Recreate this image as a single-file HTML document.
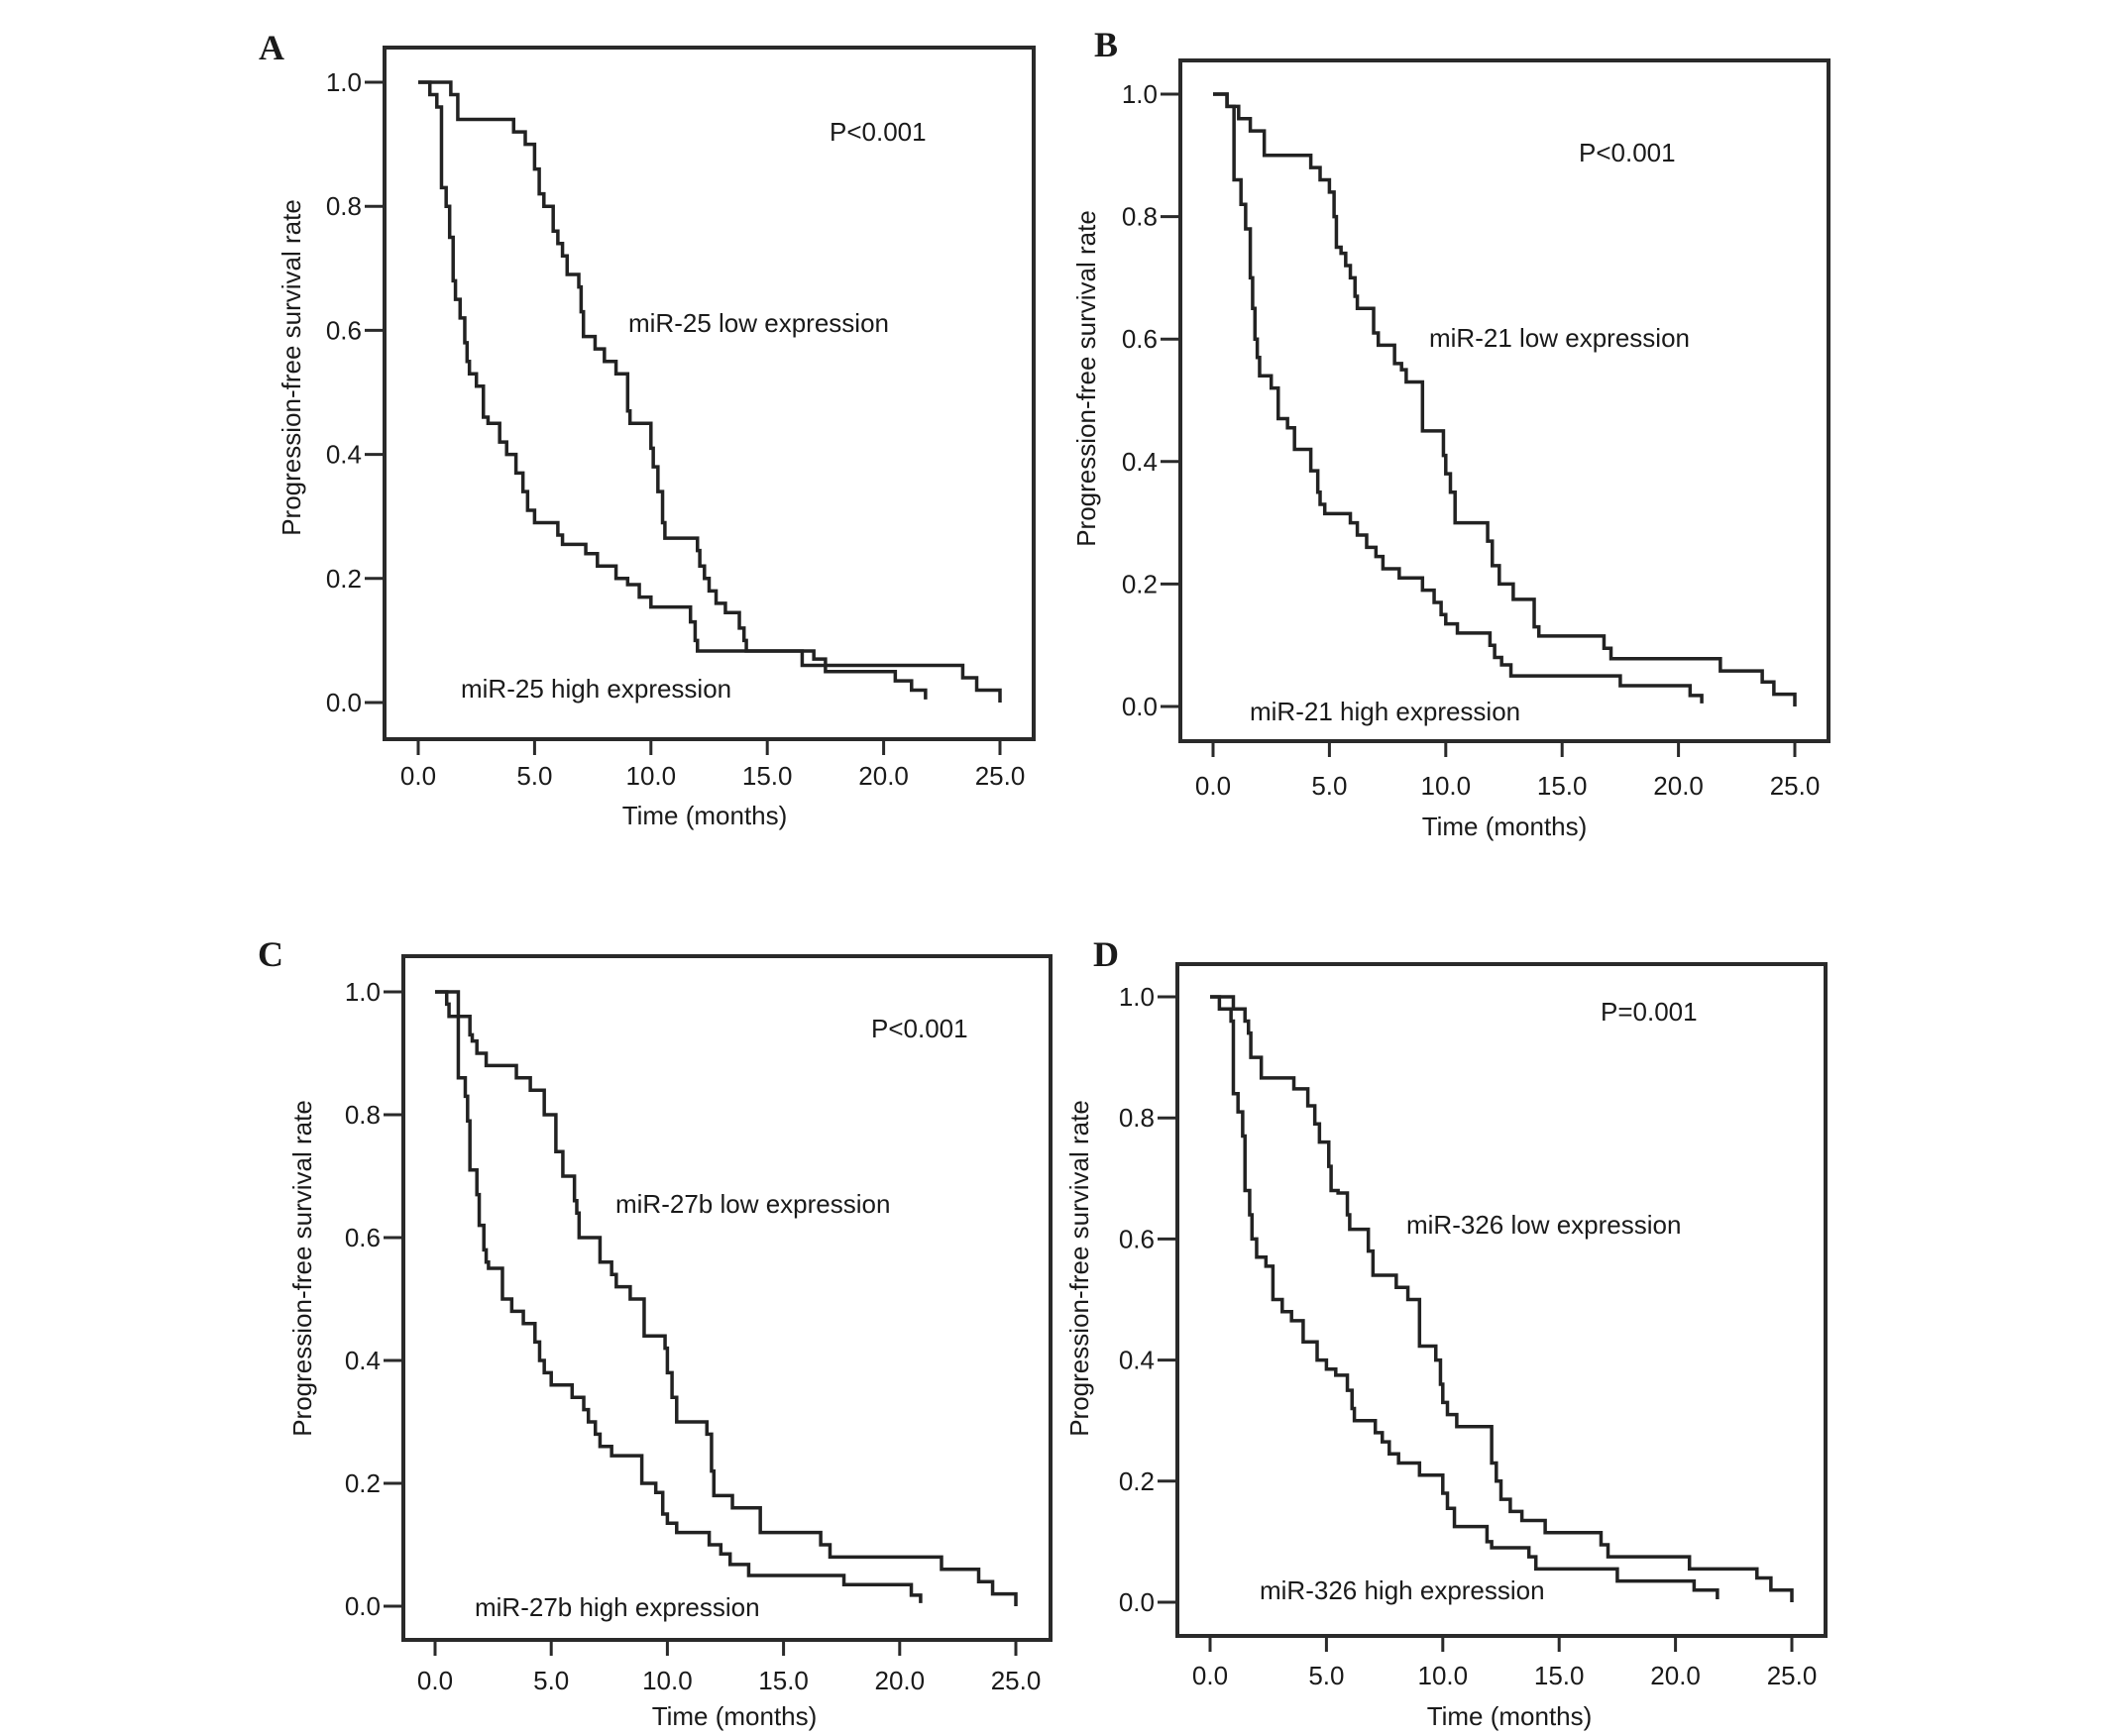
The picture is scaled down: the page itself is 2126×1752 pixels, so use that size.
<!DOCTYPE html>
<html><head><meta charset="utf-8"><style>
html,body{margin:0;padding:0;background:#fff;}
svg{display:block;}
text{font-family:"Liberation Sans",Arial,sans-serif;fill:#1a1a1a;}
.lbl{font-family:"Liberation Serif","Times New Roman",serif;font-weight:bold;}
</style></head><body>
<svg id="fig" width="2126" height="1752" viewBox="0 0 2126 1752" xmlns="http://www.w3.org/2000/svg"></svg>
<script>
// ---- data (time in months, survival after step) ----
const xTicks = [0, 5, 10, 15, 20, 25];
const xTickLabels = ["0.0", "5.0", "10.0", "15.0", "20.0", "25.0"];
const yTicks = [0, 0.2, 0.4, 0.6, 0.8, 1.0];
const yTickLabels = ["0.0", "0.2", "0.4", "0.6", "0.8", "1.0"];

const aLowT = [1.4,1.7,4.1,4.6,5.0,5.2,5.4,5.8,6.0,6.2,6.4,6.9,7.0,7.1,7.6,8.0,8.5,9.0,9.1,10.0,10.1,10.3,10.5,10.6,12.0,12.1,12.3,12.5,12.8,13.2,13.8,14.0,14.1,17.0,17.5,23.4,24.0,25.0];
const aLowS = [0.98,0.94,0.92,0.90,0.86,0.82,0.80,0.76,0.74,0.72,0.69,0.67,0.63,0.59,0.57,0.55,0.53,0.47,0.45,0.41,0.38,0.34,0.29,0.265,0.245,0.22,0.20,0.18,0.16,0.145,0.12,0.10,0.083,0.07,0.06,0.04,0.02,0.0];
const aHighT = [0.4,0.5,0.8,1.0,1.2,1.35,1.5,1.6,1.8,2.0,2.1,2.2,2.5,2.8,3.0,3.5,3.8,4.2,4.5,4.7,5.0,6.0,6.2,7.2,7.7,8.5,9.0,9.5,10.0,11.7,11.9,12.0,16.5,17.5,20.5,21.2,21.8];
const aHighS = [1.0,0.98,0.96,0.83,0.80,0.75,0.68,0.65,0.62,0.58,0.55,0.53,0.51,0.46,0.45,0.42,0.40,0.37,0.34,0.31,0.29,0.27,0.255,0.24,0.22,0.20,0.19,0.17,0.154,0.13,0.10,0.083,0.06,0.05,0.035,0.02,0.005];

const bLowT = [0.6,1.1,1.6,2.2,4.2,4.6,5.0,5.2,5.3,5.5,5.7,5.9,6.1,6.2,6.9,7.1,7.8,8.1,8.3,9.0,9.9,10.0,10.2,10.4,11.8,12.0,12.3,12.9,13.8,14.0,16.8,17.1,21.8,23.6,24.1,25.0];
const bLowS = [0.98,0.96,0.94,0.90,0.88,0.86,0.84,0.80,0.75,0.74,0.72,0.70,0.67,0.65,0.61,0.59,0.56,0.55,0.53,0.45,0.41,0.38,0.35,0.30,0.27,0.23,0.20,0.175,0.13,0.115,0.095,0.078,0.058,0.04,0.02,0.0];
const bHighT = [0.6,0.9,1.2,1.4,1.6,1.7,1.8,1.9,2.0,2.5,2.8,3.2,3.5,4.2,4.5,4.6,4.8,5.9,6.2,6.6,7.0,7.3,8.0,9.0,9.5,9.8,10.0,10.5,11.9,12.1,12.4,12.8,17.5,20.5,21.0];
const bHighS = [0.98,0.86,0.82,0.78,0.70,0.65,0.60,0.57,0.54,0.52,0.47,0.455,0.42,0.385,0.35,0.33,0.315,0.30,0.28,0.26,0.245,0.225,0.21,0.19,0.17,0.15,0.135,0.12,0.10,0.08,0.068,0.05,0.034,0.018,0.005];

const cLowT = [1.0,1.5,1.6,1.8,2.2,3.5,4.1,4.7,5.2,5.5,6.0,6.1,6.2,7.1,7.6,7.8,8.4,9.0,9.9,10.0,10.2,10.4,11.7,11.9,12.0,12.8,14.0,16.6,17.0,21.8,23.4,24.0,25.0];
const cLowS = [0.96,0.93,0.92,0.90,0.88,0.86,0.84,0.80,0.74,0.70,0.66,0.64,0.60,0.56,0.54,0.52,0.50,0.44,0.42,0.38,0.34,0.30,0.28,0.22,0.18,0.16,0.12,0.10,0.08,0.06,0.04,0.02,0.0];
const cHighT = [0.5,0.6,1.0,1.3,1.4,1.5,1.8,1.9,2.1,2.2,2.3,2.9,3.3,3.8,4.3,4.5,4.7,5.0,5.9,6.4,6.6,6.9,7.1,7.6,8.9,9.5,9.8,10.0,10.4,11.8,12.3,12.7,13.5,17.6,20.5,20.9];
const cHighS = [0.98,0.96,0.86,0.83,0.79,0.71,0.67,0.62,0.58,0.56,0.55,0.50,0.48,0.46,0.43,0.40,0.38,0.36,0.34,0.32,0.30,0.28,0.26,0.245,0.20,0.185,0.15,0.135,0.12,0.10,0.085,0.068,0.05,0.035,0.018,0.005];

const dLowT = [1.0,1.5,1.65,1.75,2.2,3.6,4.2,4.5,4.7,5.1,5.2,5.5,5.9,6.0,6.8,7.0,8.0,8.5,9.0,9.7,9.9,10.0,10.2,10.6,12.1,12.3,12.5,12.9,13.4,14.4,16.8,17.1,20.6,23.5,24.1,25.0];
const dLowS = [0.98,0.96,0.94,0.90,0.866,0.848,0.82,0.79,0.76,0.72,0.68,0.676,0.64,0.616,0.58,0.54,0.52,0.50,0.423,0.40,0.36,0.33,0.31,0.29,0.23,0.20,0.17,0.15,0.135,0.115,0.095,0.075,0.055,0.04,0.02,0.0];
const dHighT = [0.4,0.9,1.0,1.2,1.4,1.5,1.7,1.8,2.0,2.4,2.7,3.1,3.5,4.0,4.6,5.0,5.4,5.9,6.1,6.2,7.1,7.4,7.7,8.1,9.0,10.0,10.2,10.5,11.9,12.1,13.7,14.0,17.5,20.8,21.8];
const dHighS = [0.98,0.96,0.84,0.81,0.77,0.68,0.64,0.60,0.57,0.555,0.50,0.48,0.465,0.43,0.40,0.385,0.375,0.35,0.32,0.30,0.28,0.265,0.245,0.23,0.21,0.18,0.155,0.125,0.10,0.09,0.075,0.055,0.035,0.02,0.005];

// ---- layout ----
const panels = [
  {id:"a", letter:"A", L:388,R:1043,T:48,B:746, x0:422,x25:1009, y0:709,y1:83, lx:261,ly:48, p:"P<0.001",px:837,py:133, low:"miR-25 low expression",lowx:634,lowy:326, high:"miR-25 high expression",highx:465,highy:695, yt:[294,371], xt:[711,823], xl:783, series:[[aLowT,aLowS],[aHighT,aHighS]]},
  {id:"b", letter:"B", L:1191,R:1845,T:61,B:748, x0:1224,x25:1811, y0:713,y1:95, lx:1104,ly:45, p:"P<0.001",px:1593,py:154, low:"miR-21 low expression",lowx:1442,lowy:341, high:"miR-21 high expression",highx:1261,highy:718, yt:[1096,382], xt:[1518,834], xl:793, series:[[bLowT,bLowS],[bHighT,bHighS]]},
  {id:"c", letter:"C", L:407,R:1060,T:965,B:1655, x0:439,x25:1025, y0:1621,y1:1001, lx:260,ly:963, p:"P<0.001",px:879,py:1038, low:"miR-27b low expression",lowx:621,lowy:1215, high:"miR-27b high expression",highx:479,highy:1622, yt:[305,1280], xt:[741,1732], xl:1696, series:[[cLowT,cLowS],[cHighT,cHighS]]},
  {id:"d", letter:"D", L:1188,R:1842,T:973,B:1651, x0:1221,x25:1808, y0:1617,y1:1006, lx:1103,ly:963, p:"P=0.001",px:1615,py:1021, low:"miR-326 low expression",lowx:1419,lowy:1236, high:"miR-326 high expression",highx:1271,highy:1605, yt:[1089,1280], xt:[1523,1732], xl:1691, series:[[dLowT,dLowS],[dHighT,dHighS]]}
];
const NS = "http://www.w3.org/2000/svg";
const svg = document.getElementById("fig");
const FS = 26;
function mk(tag, attrs, parent){ const e=document.createElementNS(NS,tag); for(const k in attrs) e.setAttribute(k,attrs[k]); (parent||svg).appendChild(e); return e; }
function txt(s, attrs, parent){ const e=mk("text",attrs,parent); e.textContent=s; return e; }

panels.forEach(P=>{
  const g = mk("g",{});
  
  
  const xs = t => P.x0 + (P.x25-P.x0)*t/25;
  const ys = v => P.y0 + (P.y1-P.y0)*v;
  const box = mk("rect",{x:P.L,y:P.T,width:P.R-P.L,height:P.B-P.T,fill:"none",stroke:"#2a2a2a","stroke-width":4},g);
  
  
  const let_ = txt(P.letter,{x:P.lx,y:P.ly+12,"font-size":36,class:"lbl"},g);
  
  
  yTicks.forEach((v,i)=>{
    const y = ys(v);
    const tk = mk("line",{x1:P.L-20,x2:P.L,y1:y,y2:y,stroke:"#2a2a2a","stroke-width":3},g);
    
    
    const tl = txt(yTickLabels[i],{x:P.L-23,y:y+9,"font-size":FS,"text-anchor":"end"},g);
    
    
  });
  xTicks.forEach((t,i)=>{
    const x = xs(t);
    const tk = mk("line",{x1:x,x2:x,y1:P.B,y2:P.B+16,stroke:"#2a2a2a","stroke-width":3},g);
    
    
    const tl = txt(xTickLabels[i],{x:x,y:P.xl+9,"font-size":FS,"text-anchor":"middle"},g);
    
    
  });
  const xt = txt("Time (months)",{x:P.xt[0],y:P.xt[1]+9,"font-size":FS,"text-anchor":"middle"},g);
  
  
  const yt = txt("Progression-free survival rate",{x:0,y:0,"font-size":FS,"text-anchor":"middle",transform:`translate(${P.yt[0]+9},${P.yt[1]}) rotate(-90)`},g);
  
  
  const pv = txt(P.p,{x:P.px,y:P.py+9,"font-size":FS},g);
  
  
  const lo = txt(P.low,{x:P.lowx,y:P.lowy+9,"font-size":FS},g);
  
  
  const hi = txt(P.high,{x:P.highx,y:P.highy+9,"font-size":FS},g);
  
  
  P.series.forEach((s,k)=>{
    const T=s[0], S=s[1];
    let d = `M${xs(0)},${ys(1)}`;
    for(let i=0;i<T.length;i++){ d += ` H${xs(T[i])} V${ys(S[i])}`; }
    const path = mk("path",{d:d,fill:"none",stroke:"#222","stroke-width":3.5,"stroke-linejoin":"miter"},g);
    
    
  });
});
</script>
</body></html>
